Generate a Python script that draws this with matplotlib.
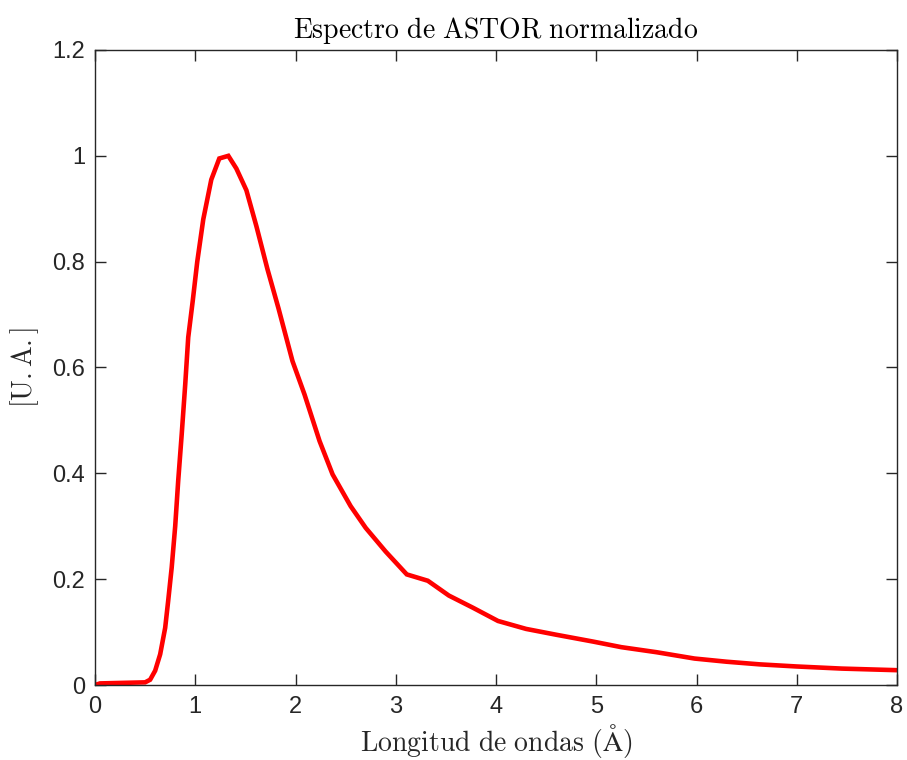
import matplotlib
matplotlib.use("Agg")
import matplotlib.pyplot as plt

plt.rcParams['mathtext.fontset'] = 'cm'

wavelength = [0.0, 0.05, 0.5, 0.55, 0.6, 0.65, 0.70, 0.73, 0.765, 0.80, 0.83, 0.865, 0.90, 0.93,
              0.975, 1.02, 1.08, 1.16, 1.24, 1.33, 1.41, 1.51, 1.61, 1.72, 1.83, 1.97, 2.09,
              2.24, 2.37, 2.55, 2.70, 2.90, 3.11, 3.32, 3.53, 3.77, 4.02, 4.30, 4.60, 4.97,
              5.25, 5.60, 5.98, 6.30, 6.63, 7.0, 7.45, 8.0]
intensity = [0.0, 0.003, 0.005, 0.010, 0.027, 0.058, 0.108, 0.159, 0.222, 0.300, 0.386, 0.474,
             0.568, 0.657, 0.726, 0.80, 0.88, 0.955, 0.995, 1.0, 0.976, 0.935, 0.867, 0.786,
             0.712, 0.612, 0.549, 0.461, 0.398, 0.338, 0.297, 0.252, 0.209, 0.197, 0.169,
             0.146, 0.121, 0.106, 0.095, 0.082, 0.0715, 0.062, 0.050, 0.044, 0.039, 0.035,
             0.031, 0.028]

xticks = [0, 1, 2, 3, 4, 5, 6, 7, 8]
yticks = [0, 0.2, 0.4, 0.6, 0.8, 1.0, 1.2]
ytick_labels = ['0', '0.2', '0.4', '0.6', '0.8', '1', '1.2']

fig = plt.figure(figsize=(9.07, 7.6), dpi=100)
ax = fig.add_axes([95/907, 75/760, 802/907, 635/760])
ax.plot(wavelength, intensity, color='#ff0000', lw=3.3, solid_joinstyle='miter')
ax.set_xlim(0, 8)
ax.set_ylim(0, 1.2)
ax.set_xticks(xticks)
ax.set_xticklabels([str(t) for t in xticks])
ax.set_yticks(yticks)
ax.set_yticklabels(ytick_labels)
ax.tick_params(direction='in', top=True, right=True, length=8, width=1,
               colors='#262626', labelsize=17)
ax.tick_params(axis='x', pad=8)
ax.tick_params(axis='y', pad=7)
for lab in ax.get_xticklabels() + ax.get_yticklabels():
    lab.set_family('Liberation Sans')
for s in ax.spines.values():
    s.set_color('#262626')
    s.set_linewidth(1)

ax.set_title(r'$\mathrm{Espectro\ de\ ASTOR\ normalizado}$', fontsize=20, pad=9, color='#000000')
ax.set_xlabel(r'$\mathrm{Longitud\ de\ ondas\ (\AA)}$', fontsize=20, labelpad=3, color='#262626')
ax.set_ylabel(r'$\mathrm{[U.A.]}$', fontsize=20, labelpad=8, color='#262626')

fig.savefig('out.png', dpi=100)
